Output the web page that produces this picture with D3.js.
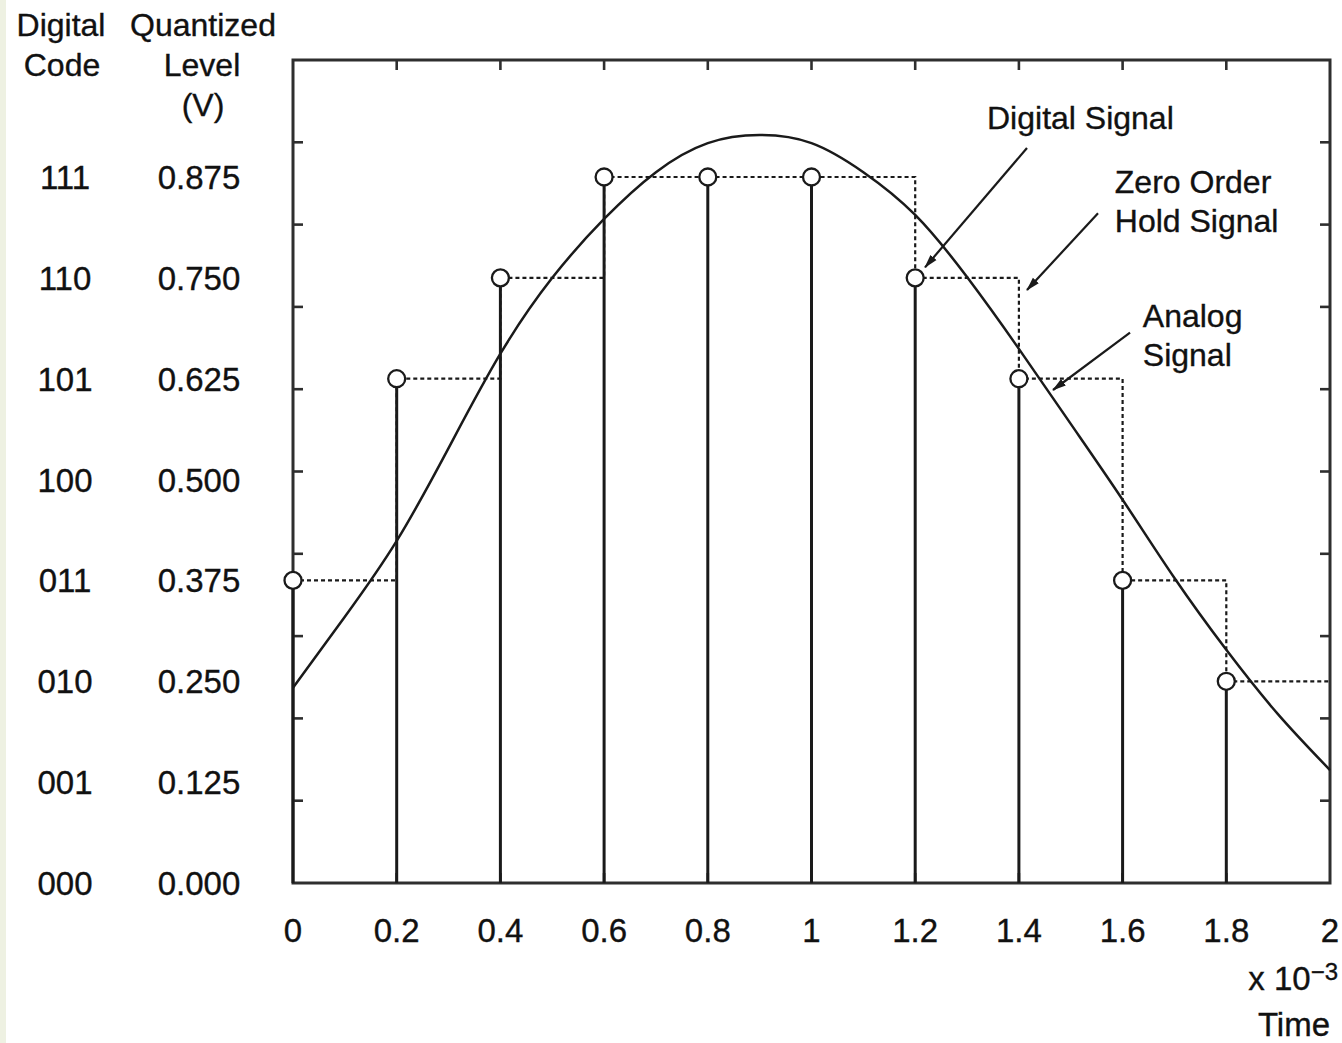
<!DOCTYPE html>
<html>
<head>
<meta charset="utf-8">
<script src="https://cdn.jsdelivr.net/npm/d3@7"></script>
<style>
  html, body { margin: 0; padding: 0; background: #ffffff; }
  svg { display: block; }
  text { font-family: "Liberation Sans", Arial, Helvetica, sans-serif; fill: #111; stroke: #111; stroke-width: 0.35; }
</style>
</head>
<body>
<script>
// ---------------- data ----------------
const sampleTimes   = [0, 0.2, 0.4, 0.6, 0.8, 1.0, 1.2, 1.4, 1.6, 1.8];   // ms (x 10^-3 s)
const digitalValues = [0.375, 0.625, 0.75, 0.875, 0.875, 0.875, 0.75, 0.625, 0.375, 0.25];

const analogTimes  = [0, 0.1, 0.2, 0.3, 0.4, 0.5, 0.6, 0.7, 0.8, 0.9, 1.0,
                      1.1, 1.2, 1.3, 1.4, 1.5, 1.6, 1.7, 1.8, 1.9, 2.0];
const analogValues = [0.242, 0.330, 0.424, 0.539, 0.656, 0.750, 0.823, 0.881, 0.917, 0.927, 0.917,
                      0.881, 0.828, 0.751, 0.662, 0.569, 0.475, 0.378, 0.289, 0.209, 0.140];

const digitalCodes = ["000", "001", "010", "011", "100", "101", "110", "111"];
const levelValues  = [0, 0.125, 0.25, 0.375, 0.5, 0.625, 0.75, 0.875];
const levelLabels  = ["0.000", "0.125", "0.250", "0.375", "0.500", "0.625", "0.750", "0.875"];

const xTickValues = [0, 0.2, 0.4, 0.6, 0.8, 1.0, 1.2, 1.4, 1.6, 1.8, 2.0];
const xTickLabels = ["0", "0.2", "0.4", "0.6", "0.8", "1", "1.2", "1.4", "1.6", "1.8", "2"];

// annotations (data units: t in ms, v in volts)
const annoLabels = [
  { lines: ["Digital Signal"],            t: 1.3385, v: 0.935 },
  { lines: ["Zero Order", "Hold Signal"], t: 1.585,  v: 0.855 },
  { lines: ["Analog", "Signal"],          t: 1.639,  v: 0.689 }
];
const annoArrows = [
  { t1: 1.4156, v1: 0.911, t2: 1.219,  v2: 0.763 },
  { t1: 1.5526, v1: 0.830, t2: 1.4156, v2: 0.735 },
  { t1: 1.6143, v1: 0.682, t2: 1.4658, v2: 0.611 }
];

// ---------------- layout ----------------
const W = 1342, H = 1043;
const svg = d3.select("body").append("svg").attr("width", W).attr("height", H);

// pale strip at the left edge
svg.append("rect").attr("x", 0).attr("y", 0).attr("width", 6).attr("height", H).attr("fill", "#eef1e2");

const x = d3.scaleLinear().domain([0, 2]).range([293, 1330]);
const yTop = 1.02;
const y = d3.scaleLinear().domain([0, yTop]).range([883, 60]);
const yFrame = d3.scaleLinear().domain([0, 1]).range([883, 60]);   // frame tick scale

const ink = "#1a1a1a";

// -------- frame with inward ticks --------
const frame = svg.append("g");
frame.append("rect")
  .attr("x", x(0)).attr("y", y(yTop))
  .attr("width", x(2) - x(0)).attr("height", y(0) - y(yTop))
  .attr("fill", "none").attr("stroke", "#2e2e2e").attr("stroke-width", 3);

const yTicks = yFrame.ticks(10).filter(d => d > 0 && d < 1);
const xInner = xTickValues.filter(d => d > 0 && d < 2);
const tickLen = 10;
frame.selectAll("line.yl").data(yTicks).join("line")
  .attr("x1", x(0)).attr("x2", x(0) + tickLen)
  .attr("y1", d => yFrame(d)).attr("y2", d => yFrame(d))
  .attr("stroke", "#2e2e2e").attr("stroke-width", 2.6);
frame.selectAll("line.yr").data(yTicks).join("line")
  .attr("x1", x(2)).attr("x2", x(2) - tickLen)
  .attr("y1", d => yFrame(d)).attr("y2", d => yFrame(d))
  .attr("stroke", "#2e2e2e").attr("stroke-width", 2.6);
frame.selectAll("line.xt").data(xInner).join("line")
  .attr("x1", d => x(d)).attr("x2", d => x(d))
  .attr("y1", y(yTop)).attr("y2", y(yTop) + tickLen)
  .attr("stroke", "#2e2e2e").attr("stroke-width", 2.6);
frame.selectAll("line.xb").data(xInner).join("line")
  .attr("x1", d => x(d)).attr("x2", d => x(d))
  .attr("y1", y(0)).attr("y2", y(0) - tickLen)
  .attr("stroke", "#2e2e2e").attr("stroke-width", 2.6);

// -------- x tick labels --------
svg.append("g").selectAll("text").data(xTickValues).join("text")
  .attr("x", d => x(d)).attr("y", 942)
  .attr("text-anchor", "middle").attr("font-size", 33)
  .text((d, i) => xTickLabels[i]);

// scale factor and axis name
const mult = svg.append("text").attr("x", 1338).attr("y", 990)
  .attr("text-anchor", "end").attr("font-size", 33);
mult.append("tspan").text("x 10");
mult.append("tspan").attr("font-size", 24).attr("dy", -10).text("\u22123");
svg.append("text").attr("x", 1330).attr("y", 1036)
  .attr("text-anchor", "end").attr("font-size", 33).text("Time");

// -------- left label columns --------
const fs = 32;
svg.append("text").attr("x", 61).attr("y", 36).attr("text-anchor", "middle").attr("font-size", fs).text("Digital");
svg.append("text").attr("x", 62).attr("y", 76).attr("text-anchor", "middle").attr("font-size", fs).text("Code");
svg.append("text").attr("x", 203).attr("y", 36).attr("text-anchor", "middle").attr("font-size", fs).text("Quantized");
svg.append("text").attr("x", 202).attr("y", 76).attr("text-anchor", "middle").attr("font-size", fs).text("Level");
svg.append("text").attr("x", 203).attr("y", 116).attr("text-anchor", "middle").attr("font-size", fs).text("(V)");

svg.append("g").selectAll("text").data(levelValues).join("text")
  .attr("x", 65).attr("y", d => y(d) + 12)
  .attr("text-anchor", "middle").attr("font-size", 33)
  .text((d, i) => digitalCodes[i]);
svg.append("g").selectAll("text").data(levelValues).join("text")
  .attr("x", 199).attr("y", d => y(d) + 12)
  .attr("text-anchor", "middle").attr("font-size", 33)
  .text((d, i) => levelLabels[i]);

// -------- zero order hold (dotted) --------
const zohData = sampleTimes.map((t, i) => [t, digitalValues[i]]);
zohData.push([2, digitalValues[digitalValues.length - 1]]);
svg.append("path")
  .datum(zohData)
  .attr("d", d3.line().x(d => x(d[0])).y(d => y(d[1])).curve(d3.curveStepAfter))
  .attr("fill", "none").attr("stroke", ink).attr("stroke-width", 2.2)
  .attr("stroke-dasharray", "4,3");

// -------- stems --------
svg.append("g").selectAll("line").data(sampleTimes).join("line")
  .attr("x1", d => x(d)).attr("x2", d => x(d))
  .attr("y1", y(0)).attr("y2", (d, i) => y(digitalValues[i]))
  .attr("stroke", ink).attr("stroke-width", 3);

// -------- analog signal --------
svg.append("path")
  .datum(analogTimes.map((t, i) => [t, analogValues[i]]))
  .attr("d", d3.line().x(d => x(d[0])).y(d => y(d[1])).curve(d3.curveNatural))
  .attr("fill", "none").attr("stroke", ink).attr("stroke-width", 2.5);

// -------- sample circles --------
svg.append("g").selectAll("circle").data(sampleTimes).join("circle")
  .attr("cx", d => x(d)).attr("cy", (d, i) => y(digitalValues[i]))
  .attr("r", 8.5)
  .attr("fill", "#fff").attr("stroke", ink).attr("stroke-width", 2.3);

// -------- annotations --------
const defs = svg.append("defs");
defs.append("marker")
  .attr("id", "arrow").attr("viewBox", "0 0 14 10")
  .attr("refX", 13).attr("refY", 5)
  .attr("markerWidth", 14).attr("markerHeight", 10)
  .attr("markerUnits", "userSpaceOnUse")
  .attr("orient", "auto")
  .append("path").attr("d", "M0,1 L14,5 L0,9 Z").attr("fill", ink);

svg.append("g").selectAll("line").data(annoArrows).join("line")
  .attr("x1", d => x(d.t1)).attr("y1", d => y(d.v1))
  .attr("x2", d => x(d.t2)).attr("y2", d => y(d.v2))
  .attr("stroke", ink).attr("stroke-width", 2.2)
  .attr("marker-end", "url(#arrow)");

annoLabels.forEach(a => {
  const tx = svg.append("text").attr("x", x(a.t)).attr("y", y(a.v)).attr("font-size", 32);
  a.lines.forEach((l, i) => {
    tx.append("tspan").attr("x", x(a.t)).attr("dy", i === 0 ? 0 : 39).text(l);
  });
});
</script>
</body>
</html>
